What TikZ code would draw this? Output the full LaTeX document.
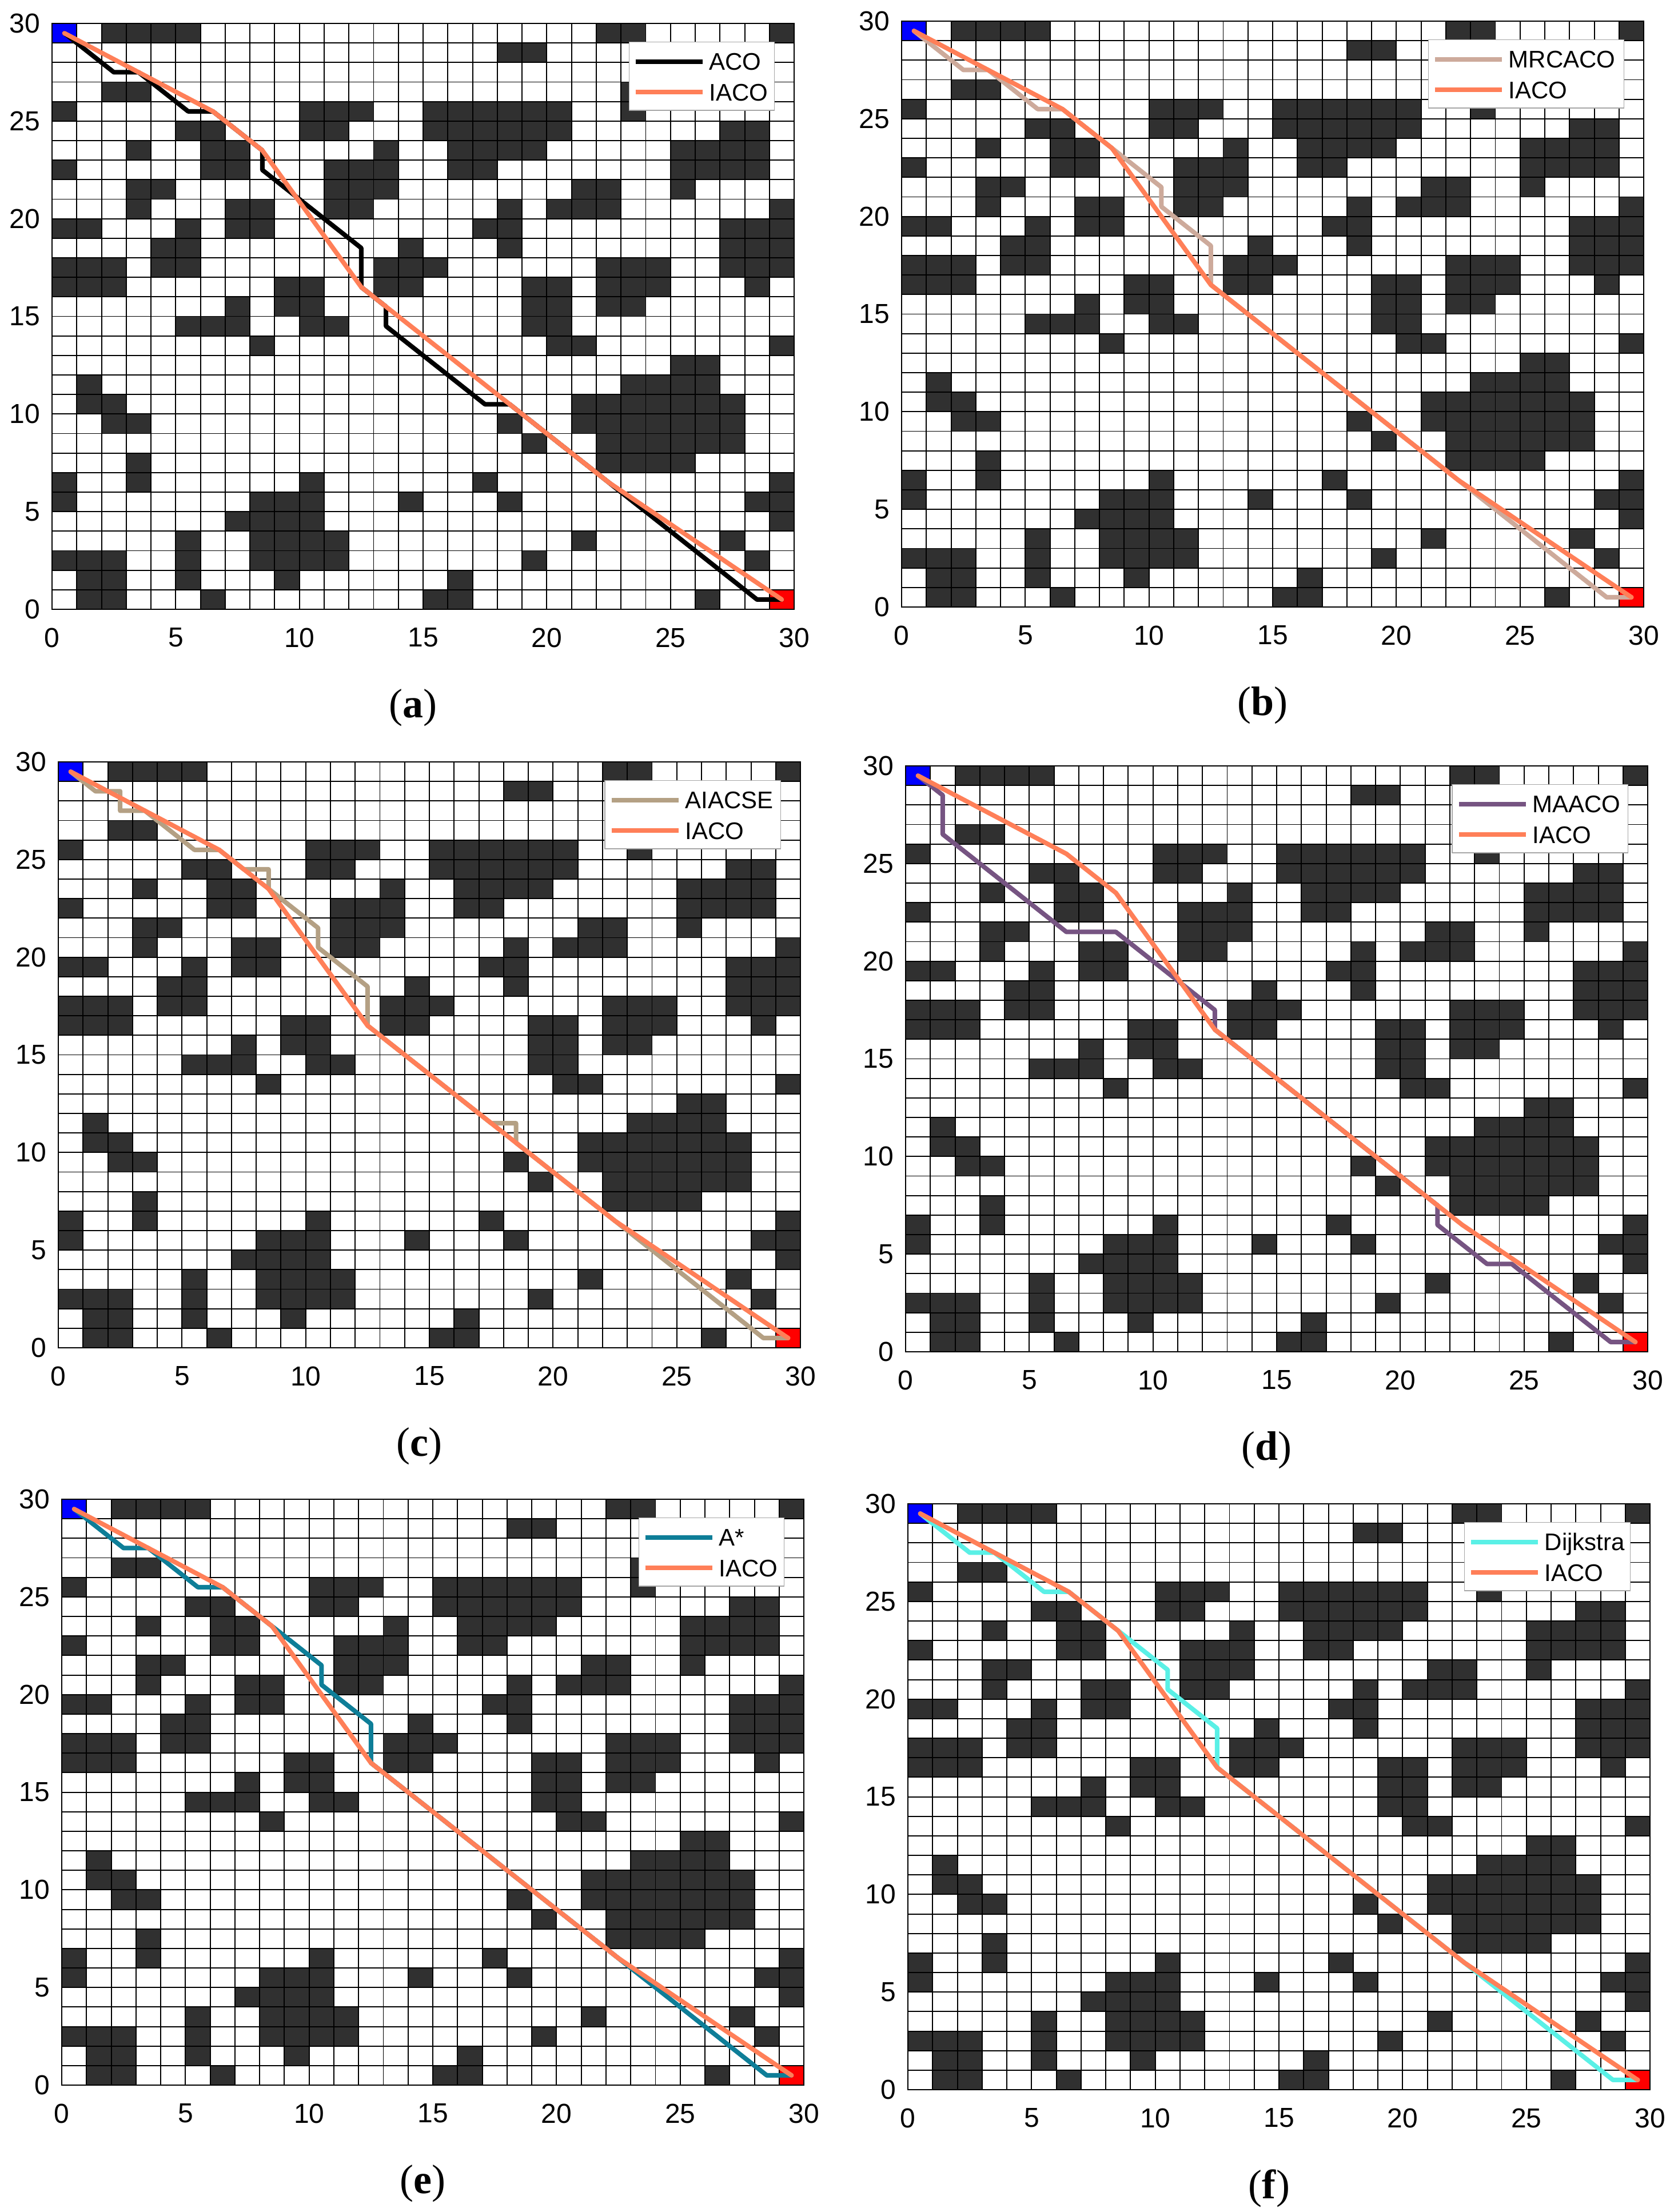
\documentclass[tikz,border=0pt]{standalone}
\usepackage{fontspec}
\setmainfont{Liberation Serif}
\newfontfamily\arialf{Liberation Sans}
\definecolor{obst}{RGB}{48,48,48}
\definecolor{startc}{RGB}{0,0,255}
\definecolor{goalc}{RGB}{255,0,0}
\definecolor{iacoc}{RGB}{255,127,88}
\definecolor{mrcacoc}{RGB}{205,170,155}
\definecolor{aiacsec}{RGB}{180,160,132}
\definecolor{maacoc}{RGB}{118,84,130}
\definecolor{astarc}{RGB}{14,126,152}
\definecolor{dijkc}{RGB}{90,240,230}
\tikzset{
  gridline/.style={black, line width=0.48pt},
  axisbox/.style={black, line width=0.6pt},
  ticklab/.style={font=\arialf\fontsize{12}{14}\selectfont, inner sep=0pt},
  legbox/.style={draw=gray!70, fill=white, line width=0.4pt},
  legtext/.style={font=\arialf\fontsize{10.5}{12}\selectfont, inner sep=0pt, anchor=base west, yshift=-3.76pt},
  captext/.style={font=\fontsize{18}{20}\selectfont, inner sep=0pt},
  pathline/.style={line width=2pt, line join=round, line cap=round},
  iaco/.style={pathline, draw=iacoc},
  aco/.style={pathline, draw=black},
  mrcaco/.style={pathline, draw=mrcacoc},
  aiacse/.style={pathline, draw=aiacsec},
  maaco/.style={pathline, draw=maacoc},
  astar/.style={pathline, draw=astarc},
  dijk/.style={pathline, draw=dijkc},
}
\newcommand{\obstlist}{29/{2,3,4,5,22,23,29},28/{18,19},26/{2,3,23},25/{0,10,11,12,15,16,17,18,19,20,23},24/{5,6,10,11,15,16,17,18,19,20,27,28},23/{3,6,7,13,16,17,18,19,25,26,27,28},22/{0,6,7,11,12,13,16,17,25,26,27,28},21/{3,4,11,12,13,21,22,25},20/{3,7,8,11,12,18,20,21,22,29},19/{0,1,5,7,8,17,18,27,28,29},18/{4,5,14,18,27,28,29},17/{0,1,2,4,5,13,14,15,22,23,24,27,28,29},16/{0,1,2,9,10,13,14,19,20,22,23,24,28},15/{7,9,10,19,20,22,23},14/{5,6,7,10,11,19,20},13/{8,20,21,29},12/{25,26},11/{1,23,24,25,26},10/{1,2,21,22,23,24,25,26,27},9/{2,3,18,21,22,23,24,25,26,27},8/{19,22,23,24,25,26,27},7/{3,22,23,24,25},6/{0,3,10,17,29},5/{0,8,9,10,14,18,28,29},4/{7,8,9,10,29},3/{5,8,9,10,11,21,27},2/{0,1,2,5,8,9,10,11,19,28},1/{1,2,5,9,16},0/{1,2,6,15,16,26}}
\newcommand{\drawmap}[2]{%
  \fill[white] (0,0) rectangle (30,30);
  \foreach \r/\cl in \obstlist {\foreach \c in \cl {\fill[obst] (\c,\r) rectangle ++(1,1);}}
  \fill[startc] (0,29) rectangle (1,30);
  \fill[goalc] (29,0) rectangle (30,1);
  \foreach \i in {1,...,29} {\draw[gridline] (\i,0) -- (\i,30); \draw[gridline] (0,\i) -- (30,\i);}
  \draw[axisbox] (0,0) rectangle (30,30);
  \foreach \v in {0,5,...,30} {
    \node[ticklab, anchor=north, yshift=-8pt] (#1x\v) at (\v,0) {\v};
    \node[ticklab, anchor=east, xshift=-5pt] (#1y\v) at (0,\v) {\v};
  }
  \node[captext] (#1cap) at (14.6,-5.05) {(\textbf{#2})};
}
\newcommand{\drawlegend}[4]{%
  \draw[legbox] (#2,25.55) rectangle (29.2,29.05);
  \draw[#3, line cap=butt] (#2+0.26,28.05) -- (#2+2.97,28.05);
  \draw[iaco, line cap=butt] (#2+0.26,26.48) -- (#2+2.97,26.48);
  \node[legtext] (#1la) at (#2+3.22,28.05) {#4};
  \node[legtext] (#1lb) at (#2+3.22,26.48) {IACO};
}
\newcommand{\iacopath}{\draw[iaco] (0.5,29.5) -- (6.5,25.5) -- (8.5,23.5) -- (12.5,16.5) -- (22.5,6.5) -- (29.5,0.5);}
\newcommand{\astarpath}[1]{\draw[#1] (0.5,29.5) -- (2.5,27.5) -- (3.5,27.5) -- (5.5,25.5) -- (6.5,25.5) -- (8.5,23.5) -- (10.5,21.5) -- (10.5,20.5) -- (12.5,18.5) -- (12.5,16.5) -- (22.5,6.5) -- (28.5,0.5) -- (29.5,0.5);}
\begin{document}
\begin{tikzpicture}
\useasboundingbox (0,0) rectangle (733.75pt,-967.5pt);
\fill[white] (0,0) rectangle (733.75pt,-967.5pt);
% (a)
\begin{scope}[shift={(22.75pt,-266.5pt)}, x=10.8175pt, y=8.5417pt]
  \drawmap{a}{a}
  \draw[aco] (0.5,29.5) -- (2.5,27.5) -- (3.5,27.5) -- (5.5,25.5) -- (6.5,25.5) -- (8.5,23.5) -- (8.5,22.5) -- (12.5,18.5) -- (12.5,16.5) -- (13.5,15.5) -- (13.5,14.5) -- (17.5,10.5) -- (18.5,10.5) -- (28.5,0.5) -- (29.5,0.5);
  \iacopath
  \drawlegend{a}{23.33}{aco}{ACO}
\end{scope}
% (b)
\begin{scope}[shift={(394.25pt,-265.5pt)}, x=10.8175pt, y=8.5417pt]
  \drawmap{b}{b}
  \astarpath{mrcaco}
  \iacopath
  \drawlegend{b}{21.3}{mrcaco}{MRCACO}
\end{scope}
% (c)
\begin{scope}[shift={(25.5pt,-589.5pt)}, x=10.8175pt, y=8.5417pt]
  \drawmap{c}{c}
  \draw[aiacse] (0.5,29.5) -- (1.5,28.5) -- (2.5,28.5) -- (2.5,27.5) -- (3.5,27.5) -- (5.5,25.5) -- (6.5,25.5) -- (7.5,24.5) -- (8.5,24.5) -- (8.5,23.5) -- (10.5,21.5) -- (10.5,20.5) -- (12.5,18.5) -- (12.5,16.5) -- (17.5,11.5) -- (18.5,11.5) -- (18.5,10.5) -- (28.5,0.5) -- (29.5,0.5);
  \iacopath
  \drawlegend{c}{22.1}{aiacse}{AIACSE}
\end{scope}
% (d)
\begin{scope}[shift={(396pt,-591.25pt)}, x=10.8175pt, y=8.5417pt]
  \drawmap{d}{d}
  \draw[maaco] (0.5,29.5) -- (1.5,28.5) -- (1.5,26.5) -- (6.5,21.5) -- (8.5,21.5) -- (12.5,17.5) -- (12.5,16.5) -- (21.5,7.5) -- (21.5,6.5) -- (23.5,4.5) -- (24.5,4.5) -- (28.5,0.5) -- (29.5,0.5);
  \iacopath
  \drawlegend{d}{22.1}{maaco}{MAACO}
\end{scope}
% (e)
\begin{scope}[shift={(27pt,-912pt)}, x=10.8175pt, y=8.5417pt]
  \drawmap{e}{e}
  \astarpath{astar}
  \iacopath
  \drawlegend{e}{23.33}{astar}{A*}
\end{scope}
% (f)
\begin{scope}[shift={(397pt,-914pt)}, x=10.8175pt, y=8.5417pt]
  \drawmap{f}{f}
  \astarpath{dijk}
  \iacopath
  \drawlegend{f}{22.5}{dijk}{Dijkstra}
\end{scope}
\end{tikzpicture}
\end{document}
